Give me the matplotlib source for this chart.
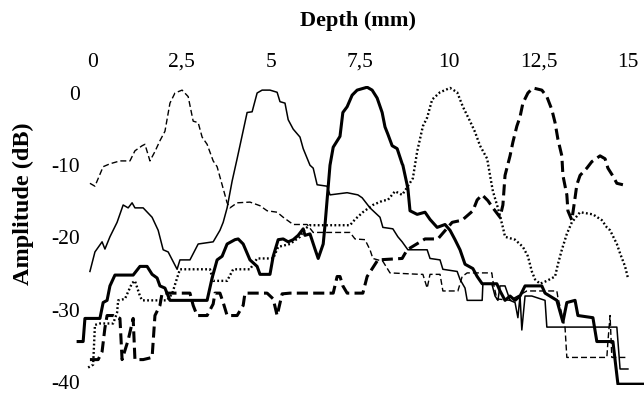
import matplotlib
matplotlib.use("Agg")
import matplotlib.pyplot as plt

plt.rcParams['font.family'] = ['Liberation Serif', 'DejaVu Serif']
plt.rcParams['lines.scale_dashes'] = False

# --- data (depth in mm, amplitude in dB) ---
# thin dashed, focus at 2.5 mm
d_25 = [-0.06, 0.08, 0.31, 0.50, 0.78, 1.06, 1.20, 1.40, 1.48, 1.62, 1.76, 1.90, 2.04, 2.18,
        2.32, 2.52, 2.69, 2.83, 2.97, 3.08, 3.22, 3.39, 3.50, 3.64, 3.78, 3.86, 4.06, 4.42,
        4.70, 4.90, 5.18, 5.35, 5.63, 6.02, 6.19, 7.22, 7.36, 7.64, 7.78, 7.86, 8.14, 8.34,
        9.18, 9.26, 9.38, 9.46, 9.74, 9.82, 10.24, 10.36, 10.50, 11.19, 11.22, 11.33, 11.70,
        12.17, 13.01, 13.04, 13.24, 13.29, 14.41, 14.44, 14.50, 14.55, 15.00]
a_25 = [-12.5, -12.9, -10.2, -9.8, -9.4, -9.4, -8.0, -7.3, -7.1, -9.4, -8.1, -6.6, -5.3, -1.4,
        0.0, 0.4, -0.5, -3.9, -4.1, -6.1, -7.1, -9.4, -10.2, -12.7, -15.2, -15.9, -15.2, -15.1,
        -15.6, -16.3, -16.5, -17.2, -18.2, -18.2, -19.3, -19.3, -20.2, -20.3, -21.7, -22.9, -23.3, -24.9,
        -25.1, -25.1, -27.0, -25.1, -25.1, -27.4, -27.4, -25.4, -24.9, -24.9, -26.0, -28.5, -28.7,
        -27.4, -27.4, -28.3, -32.5, -36.6, -36.6, -34.4, -30.8, -36.6, -36.6]

# thin solid, focus at 5 mm
d_5 = [-0.06, 0.08, 0.28, 0.36, 0.50, 0.70, 0.87, 1.01, 1.12, 1.20, 1.43, 1.68, 1.85, 1.99,
       2.13, 2.38, 2.46, 2.74, 2.97, 3.39, 3.58, 3.67, 3.78, 3.92, 4.06, 4.34, 4.48, 4.62,
       4.76, 4.98, 5.18, 5.26, 5.40, 5.49, 5.63, 5.82, 5.91, 6.10, 6.19, 6.30, 6.58, 6.66,
       7.14, 7.44, 7.56, 7.78, 8.06, 8.14, 8.42, 8.56, 8.68, 8.84, 9.38, 9.46, 9.74, 9.82,
       10.22, 10.30, 10.44, 10.50, 10.92, 10.94, 11.19, 11.28, 11.36, 11.42, 11.56, 11.70,
       11.84, 11.92, 11.98, 12.03, 12.12, 12.31, 12.68, 12.73, 14.69, 14.78, 15.00]
a_5 = [-24.7, -22.0, -20.6, -21.6, -19.9, -17.9, -15.5, -15.9, -15.2, -15.9, -15.9, -17.2, -19.0, -21.7,
       -22.0, -24.4, -23.1, -23.1, -20.9, -20.6, -19.0, -17.9, -15.9, -12.2, -9.1, -2.7, -2.6, 0.0,
       0.4, 0.4, 0.1, -1.2, -1.4, -3.7, -5.0, -6.1, -7.7, -10.0, -10.4, -12.7, -12.9, -14.1,
       -13.8, -14.1, -14.5, -15.9, -17.2, -18.6, -18.8, -19.9, -20.6, -21.7, -21.7, -22.9, -23.1, -24.4,
       -24.7, -25.8, -27.0, -28.7, -28.7, -26.4, -26.4, -28.1, -28.7, -26.7, -26.7, -28.7,
       -29.0, -31.1, -28.1, -32.8, -28.1, -28.1, -28.7, -32.4, -32.4, -38.2, -38.2]

# thick solid, focus at 7.5 mm
d_75 = [-0.39, -0.25, -0.20, 0.22, 0.31, 0.42, 0.50, 0.64, 1.15, 1.34, 1.54, 1.68, 1.82, 1.90,
        2.04, 2.13, 2.18, 3.22, 3.36, 3.50, 3.64, 3.78, 4.00, 4.09, 4.23, 4.42, 4.62, 4.70,
        4.98, 5.07, 5.21, 5.35, 5.49, 5.63, 5.77, 5.91, 5.96, 6.10, 6.24, 6.33, 6.47, 6.52,
        6.66, 6.75, 6.94, 7.02, 7.14, 7.28, 7.42, 7.70, 7.84, 7.98, 8.12, 8.20, 8.28, 8.40,
        8.54, 8.68, 8.70, 8.84, 8.90, 9.10, 9.32, 9.46, 9.66, 9.88, 10.02, 10.16, 10.30, 10.44,
        10.66, 10.78, 10.92, 11.33, 11.42, 11.56, 11.70, 11.84, 11.98, 12.12, 12.59, 12.68,
        13.01, 13.18, 13.29, 13.52, 13.60, 14.02, 14.13, 14.58, 14.72, 15.45]
a_75 = [-34.4, -34.4, -31.2, -31.2, -29.0, -28.7, -26.7, -25.2, -25.2, -24.0, -24.0, -25.1, -25.6, -26.7,
        -27.0, -28.1, -28.7, -28.7, -25.6, -23.1, -22.6, -20.9, -20.3, -20.2, -20.9, -23.1, -24.0, -25.1,
        -25.1, -22.6, -20.3, -20.2, -20.6, -20.3, -19.7, -18.8, -19.7, -19.5, -21.6, -22.9, -20.9, -18.3,
        -10.0, -7.5, -6.0, -2.7, -1.9, -0.3, 0.4, 0.8, 0.4, -0.7, -2.7, -4.7, -5.7, -7.3,
        -7.7, -9.8, -10.0, -13.2, -16.3, -16.8, -16.5, -17.5, -18.6, -18.2, -19.0, -20.3, -21.7, -23.7,
        -24.3, -25.4, -26.4, -26.4, -27.4, -28.7, -28.1, -28.7, -28.1, -26.7, -26.7, -27.7,
        -28.7, -31.7, -29.0, -28.7, -30.8, -31.1, -34.4, -34.4, -40.3, -40.3]

# dotted, focus at 10 mm
d_10 = [-0.11, 0.03, 0.08, 0.22, 0.59, 0.70, 0.73, 0.92, 1.12, 1.20, 1.34, 1.40, 2.10, 2.24,
        2.38, 2.46, 3.30, 3.39, 3.78, 3.95, 4.42, 4.62, 5.07, 5.21, 5.54, 5.82, 5.96, 6.10,
        7.22, 7.36, 7.58, 7.86, 8.14, 8.28, 8.48, 8.68, 8.84, 8.98, 9.10, 9.26, 9.38, 9.52,
        9.74, 10.02, 10.22, 10.38, 10.58, 10.72, 10.86, 11.06, 11.14, 11.22, 11.36, 11.50,
        11.56, 11.84, 12.06, 12.20, 12.31, 12.40, 12.54, 12.73, 12.96, 13.04, 13.15, 13.29,
        13.43, 13.66, 14.02, 14.27, 14.41, 14.50, 14.69, 14.78, 14.92, 15.00]
a_10 = [-38.0, -37.6, -32.1, -31.9, -31.9, -30.4, -28.7, -28.5, -26.3, -26.0, -28.1, -28.7, -28.7, -27.8,
        -25.6, -24.4, -24.4, -26.0, -26.0, -24.4, -24.4, -22.9, -22.9, -21.3, -20.9, -19.9, -18.8, -18.3,
        -18.3, -17.5, -16.5, -15.5, -14.9, -14.8, -13.6, -14.1, -12.9, -11.8, -8.1, -4.6, -3.4, -0.9,
        0.1, 0.7, 0.1, -1.9, -3.9, -5.4, -7.3, -9.1, -11.4, -13.6, -15.9, -18.6,
        -19.9, -20.3, -21.3, -22.6, -24.7, -25.8, -26.4, -26.0, -25.4, -23.7, -21.7, -19.5,
        -17.9, -16.5, -16.8, -17.6, -18.6, -19.0, -20.9, -22.2, -24.0, -25.6]

# thick dashed, focus at 12.5 mm
d_125 = [-0.06, 0.17, 0.28, 0.36, 0.42, 0.59, 0.78, 0.84, 1.01, 1.15, 1.20, 1.43, 1.68, 1.76,
         1.90, 1.96, 2.74, 2.83, 2.94, 3.22, 3.39, 3.44, 3.58, 3.67, 3.78, 4.06, 4.23, 4.28,
         4.90, 5.07, 5.18, 5.32, 5.54, 6.75, 6.86, 6.94, 7.02, 7.14, 7.58, 7.70, 8.00, 8.68,
         8.82, 9.32, 9.68, 10.08, 10.36, 10.66, 10.78, 10.92, 11.08, 11.22, 11.42, 11.50, 11.56,
         11.70, 11.78, 11.89, 11.98, 12.06, 12.20, 12.34, 12.59, 12.73, 12.87, 12.96, 13.04,
         13.15, 13.18, 13.29, 13.32, 13.43, 13.52, 13.57, 13.66, 13.85, 13.99, 14.22, 14.36,
         14.44, 14.58, 14.69, 14.86]
a_125 = [-36.9, -36.9, -35.8, -32.5, -30.8, -30.8, -31.2, -36.9, -34.2, -31.2, -36.9, -36.9, -36.6, -30.8,
         -29.4, -27.7, -27.7, -29.4, -30.8, -30.8, -29.2, -27.7, -27.7, -29.0, -30.8, -30.8, -29.4, -27.7,
         -27.7, -28.5, -30.8, -27.8, -27.7, -27.7, -25.4, -25.4, -26.7, -27.7, -27.7, -25.4, -23.1, -22.9,
         -21.7, -20.2, -20.2, -17.9, -17.6, -16.3, -14.8, -14.1, -14.9, -15.9, -17.2, -15.5, -11.4,
         -8.7, -6.8, -4.6, -3.3, -1.4, 0.0, 0.7, 0.4, -0.5, -2.3, -4.1, -6.4,
         -8.7, -11.4, -14.1, -16.3, -17.6, -14.5, -12.7, -11.4, -10.4, -9.5, -8.7, -9.1,
         -10.4, -11.5, -12.5, -12.7]

x_ticks = [0, 2.5, 5, 7.5, 10, 12.5, 15]
x_ticklabels = ['0', '2,5', '5', '7,5', '10', '12,5', '15']
y_ticks = [0, -10, -20, -30, -40]
y_ticklabels = ['0', '-10', '-20', '-30', '-40']

fig = plt.figure(figsize=(6.44, 3.94), dpi=100)
# 0 dB at y=93 px, -40 dB at y=382 px
px_db = (382 - 93) / 40.0
top_px = 93 - 1.0 * px_db
bot_px = 93 + 40.4 * px_db
ax = fig.add_axes([76 / 644, 1 - bot_px / 394, (644 - 76) / 644, (bot_px - top_px) / 394])

ax.plot(d_25, a_25, color='black', lw=1.0, linestyle=(0, (4.3, 2.2)))
ax.plot(d_5, a_5, color='black', lw=1.1)
ax.plot(d_75, a_75, color='black', lw=2.2)
ax.plot(d_10, a_10, color='black', lw=1.7, linestyle=(0, (1.3, 1.7)))
ax.plot(d_125, a_125, color='black', lw=2.2, linestyle=(0, (8, 3.8)))

ax.set_xlim(-0.45, 15.45)
ax.set_ylim(-40.4, 1.0)

ax.xaxis.tick_top()
ax.set_xticks(x_ticks)
ax.set_xticklabels(x_ticklabels)
ax.set_yticks(y_ticks)
ax.set_yticklabels(y_ticklabels)
ax.tick_params(axis='x', length=0, pad=10, labelsize=15.5)
ax.tick_params(axis='y', length=0, pad=-3, labelsize=15.5)
for s in ax.spines.values():
    s.set_visible(False)
ax.patch.set_visible(False)

fig.text(358 / 644, 1 - 21 / 394, 'Depth (mm)', ha='center', va='center',
         fontsize=16, fontweight='bold')
fig.text(23 / 644, 1 - 204 / 394, 'Amplitude (dB)', ha='center', va='center',
         rotation=90, fontsize=17.5, fontweight='bold')

fig.savefig('out.png', dpi=100)
